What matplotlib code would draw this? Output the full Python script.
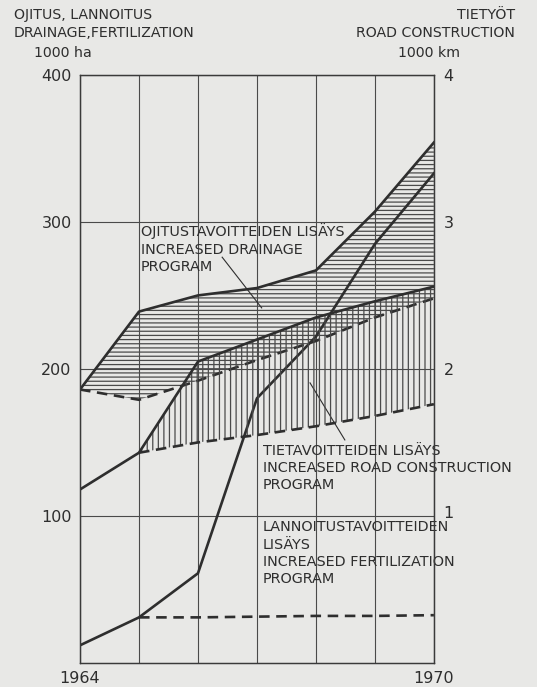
import matplotlib
matplotlib.use("Agg")
import numpy as np
import matplotlib.pyplot as plt
import matplotlib.transforms as mtransforms

# values
years = [1964, 1965, 1966, 1967, 1968, 1969, 1970]
drainage_upper = [186, 239, 250, 255, 267, 307, 354]      # 1000 ha
drainage_lower = [186, 179, 192, 206, 219, 235, 248]      # 1000 ha (dashed)
fertil_upper = [12, 31, 61, 180, 222, 285, 333]           # 1000 ha
fertil_lower = [np.nan, 31, 31, 31.5, 32, 32, 32.5]       # 1000 ha (dashed)
road_upper = [1.18, 1.43, 2.05, 2.20, 2.35, 2.46, 2.56]   # 1000 km
road_lower = [np.nan, 1.43, 1.50, 1.55, 1.61, 1.68, 1.76] # 1000 km (dashed)

left_ticks = [100, 200, 300, 400]
right_ticks = [1, 2, 3, 4]
year_labels = ["1964", "", "", "", "", "", "1970"]

ink = "#2e2e2e"
paper = "#e8e8e6"
plt.rcParams["hatch.linewidth"] = 0.9
plt.rcParams["font.family"] = "DejaVu Sans"

fig = plt.figure(figsize=(5.37, 6.87), dpi=100, facecolor=paper)
ax = fig.add_axes([0.149, 0.035, 0.659, 0.856])
ax.set_facecolor(paper)
ax2 = ax.twinx()

x = np.array(years)

# drainage band: horizontal hatching
ax.fill_between(x, drainage_lower, drainage_upper, facecolor="none",
                edgecolor="#4a4a4a", hatch="----", linewidth=0)
ax.plot(x, drainage_upper, color=ink, lw=1.9)
ax.plot(x, drainage_lower, color=ink, lw=1.9, ls=(0, (4, 2.5)))

# road band: vertical hatching on the right scale
ru = np.array(road_upper)
rl = np.array(road_lower)
m = ~np.isnan(rl)
ax2.fill_between(x[m], rl[m], ru[m], facecolor="none",
                 edgecolor="#4a4a4a", hatch="|||", linewidth=0)
ax2.plot(x, ru, color=ink, lw=1.9)
ax2.plot(x[m], rl[m], color=ink, lw=1.9, ls=(0, (4, 2.5)))

# fertilization
ax.plot(x, fertil_upper, color=ink, lw=1.9)
ax.plot(x, fertil_lower, color=ink, lw=1.9, ls=(0, (4, 2.5)))

# axes and grid
ax.set_xlim(1964, 1970)
ax.set_ylim(0, 400)
ax2.set_ylim(0, 4)
ax.set_xticks(years)
ax.set_xticklabels(year_labels, fontsize=11.5)
ax.set_yticks(left_ticks)
ax.set_yticklabels([str(v) for v in left_ticks], fontsize=11.5)
ax2.set_yticks(right_ticks)
ax2.set_yticklabels([str(v) for v in right_ticks], fontsize=11.5)
ax.tick_params(length=0, pad=6, colors=ink)
ax.tick_params(axis="x", pad=6)
ax2.tick_params(length=0, pad=7, colors=ink)
ax.grid(True, color="#4a4a4a", lw=0.8)
for a in (ax, ax2):
    for s in a.spines.values():
        s.set_color("#3a3a3a")
        s.set_linewidth(0.9)

# the "1" on the right sits a little above its line
lift = mtransforms.ScaledTranslation(0, 4 / 100, fig.dpi_scale_trans)
ax2.get_yticklabels()[0].set_transform(ax2.get_yticklabels()[0].get_transform() + lift)

# annotations
tkw = dict(fontsize=10.4, color=ink, va="top", ha="left", linespacing=1.3)
ax.text(1965.03, 299, "OJITUSTAVOITTEIDEN LISÄYS\nINCREASED DRAINAGE\nPROGRAM", **tkw)
ax.text(1967.1, 149, "TIETAVOITTEIDEN LISÄYS\nINCREASED ROAD CONSTRUCTION\nPROGRAM", **tkw)
ax.text(1967.1, 97, "LANNOITUSTAVOITTEIDEN\nLISÄYS\nINCREASED FERTILIZATION\nPROGRAM", **tkw)
ax.plot([1966.41, 1967.08], [276, 241.5], color=ink, lw=0.8)
ax.plot([1967.9, 1968.49], [190.5, 151.7], color=ink, lw=0.8)

# axis headers
hkw = dict(fontsize=10.2, color=ink, linespacing=1.35, va="top")
fig.text(14 / 537, 1 - 8 / 687, "OJITUS, LANNOITUS\nDRAINAGE,FERTILIZATION", ha="left", **hkw)
fig.text(34 / 537, 1 - 46 / 687, "1000 ha", ha="left", **hkw)
fig.text(515 / 537, 1 - 8 / 687, "TIETYÖT\nROAD CONSTRUCTION", ha="right", **hkw)
fig.text(460 / 537, 1 - 46 / 687, "1000 km", ha="right", **hkw)

fig.savefig("out.png", dpi=100, facecolor=paper)
